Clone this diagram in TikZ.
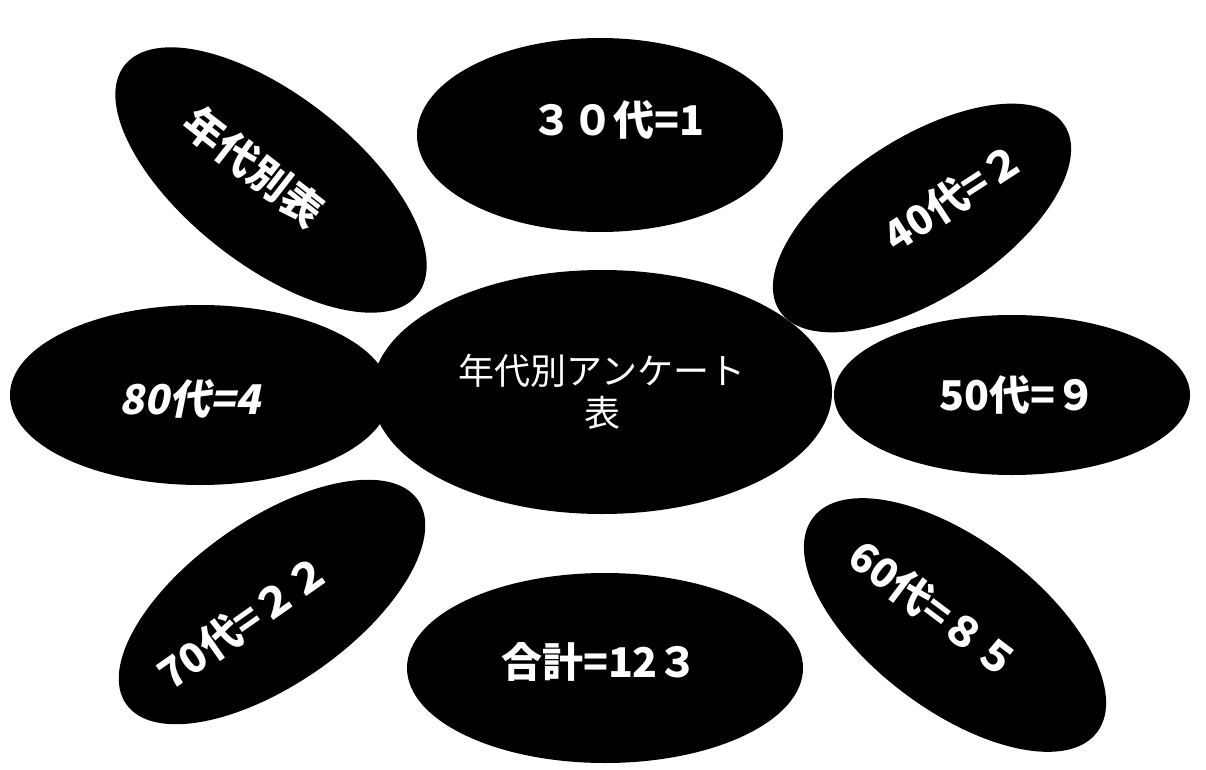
\documentclass[tikz,border=0pt]{standalone}
\usepackage{fontspec}
\usetikzlibrary{shapes.geometric}
\newfontfamily\jp{Noto Sans CJK JP}
\newfontfamily\jpsl[FakeSlant=0.2]{Noto Sans CJK JP}
\tikzset{
  blob/.style={ellipse, fill=black, draw=none, text=white, inner sep=0pt,
    font=\jp\bfseries\fontsize{41}{46}\selectfont},
}
\begin{document}
\begin{tikzpicture}[x=1pt,y=-1pt]
\useasboundingbox (0,0) rectangle (1206,770);
\node[blob, minimum width=372pt, minimum height=170pt, rotate=-38] (title) at (271,180) {\hspace*{-44pt}年代別表};
\node[blob, minimum width=366pt, minimum height=194pt] (n30) at (600,135) {\hspace*{36pt}\raisebox{-1pt}[0pt][0pt]{３０代=1}};
\node[blob, minimum width=340pt, minimum height=160pt, rotate=33] (n40) at (922,218) {\hspace*{76pt}40代=２};
\node[blob, minimum width=380pt, minimum height=180pt, font=\jpsl\bfseries\fontsize{41}{46}\selectfont] (n80) at (200,395) {\hspace*{-20pt}\raisebox{-19pt}[0pt][0pt]{80代=4}};
\node[blob, minimum width=460pt, minimum height=244pt, align=center, font=\jp\fontsize{36}{42}\selectfont] (c) at (602,392) {年代別アンケート\\表};
\node[blob, minimum width=356pt, minimum height=160pt] (n50) at (1012,395) {\hspace*{12pt}50代=９};
\node[blob, minimum width=356pt, minimum height=164pt, rotate=35] (n70) at (272,602) {\hspace*{-70pt}70代=２２};
\node[blob, minimum width=396pt, minimum height=190pt] (sum) at (605,668) {\hspace*{-10pt}\raisebox{-9pt}[0pt][0pt]{合計=12３}};
\node[blob, minimum width=356pt, minimum height=170pt, rotate=-37] (n60) at (955,625) {\hspace*{-52pt}60代=８５};
\end{tikzpicture}
\end{document}
